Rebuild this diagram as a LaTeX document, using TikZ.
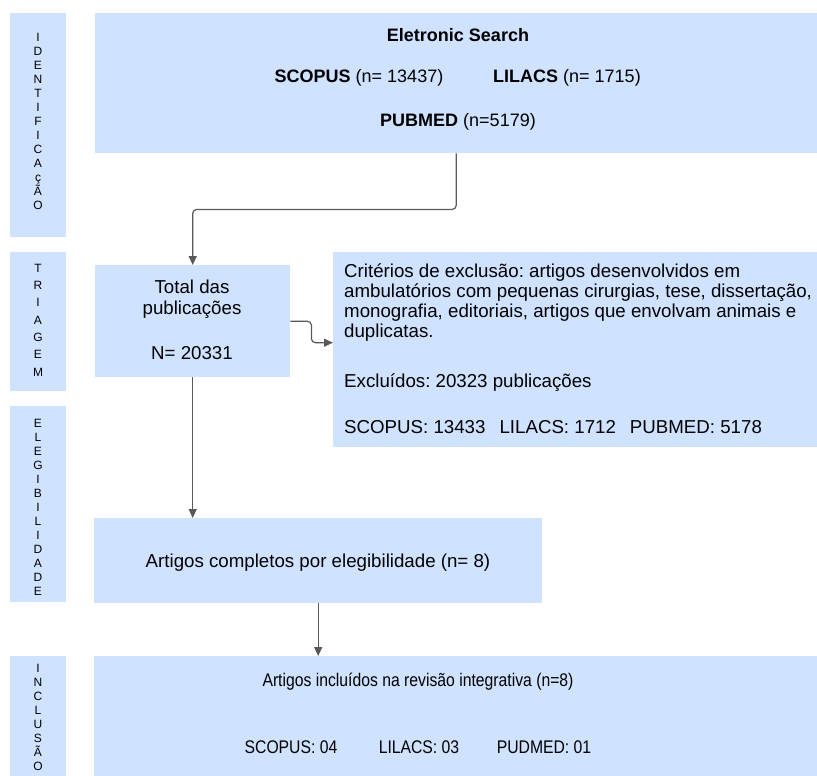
\documentclass[tikz,border=0pt]{standalone}
\usepackage{fontspec}
\setmainfont{Liberation Sans}
\newfontfamily\narrowfont[FakeStretch=0.86]{Liberation Sans}
\usetikzlibrary{arrows.meta}
\definecolor{boxblue}{RGB}{207,226,255}
\definecolor{linegray}{RGB}{89,89,89}
\frenchspacing

\begin{document}
\begin{tikzpicture}[x=1pt, y=-1pt]
    \useasboundingbox (0,0) rectangle (817,776);

    \tikzset{BoxStyle/.style={fill=boxblue, inner sep=0pt, anchor=north west}}
    \node[BoxStyle, minimum width=56,  minimum height=224] (sIdent)   at (10,13)  {};
    \node[BoxStyle, minimum width=56,  minimum height=139] (sTriagem) at (10,252) {};
    \node[BoxStyle, minimum width=56,  minimum height=196] (sEleg)    at (10,406) {};
    \node[BoxStyle, minimum width=56,  minimum height=120] (sIncl)    at (10,656) {};

    \node[BoxStyle, minimum width=722, minimum height=140] (search)   at (95,13)  {};
    \node[BoxStyle, minimum width=195, minimum height=112] (total)    at (95,265) {};
    \node[BoxStyle, minimum width=484, minimum height=195] (excl)     at (333,252) {};
    \node[BoxStyle, minimum width=448, minimum height=85]  (eleg)     at (94,518) {};
    \node[BoxStyle, minimum width=723, minimum height=120] (incl)     at (94,656) {};

    \tikzset{StageStyle/.style={align=center, inner sep=0pt, font=\fontsize{12}{14}\selectfont}}
    \node[StageStyle] (tIdent) at (38,121) {I\\D\\E\\N\\T\\I\\F\\I\\C\\A\\ç\\Ã\\O};
    \node[StageStyle, font=\fontsize{12}{17.3}\selectfont] (tTriagem) at (38,320) {T\\R\\I\\A\\G\\E\\M};
    \node[StageStyle] (tEleg)  at (38,507) {E\\L\\E\\G\\I\\B\\I\\L\\I\\D\\A\\D\\E};
    \node[StageStyle] (tIncl)  at (38,717) {I\\N\\C\\L\\U\\S\\Ã\\O};

    \tikzset{TextStyle/.style={inner sep=0pt, font=\fontsize{18}{20}\selectfont}}
    \node[TextStyle] (searchTitle) at (458,35)  {\textbf{Eletronic Search}};
    \node[TextStyle] (scopus)      at (359,78)  {\textbf{SCOPUS} (n= 13437)};
    \node[TextStyle] (lilacs)      at (567,78)  {\textbf{LILACS} (n= 1715)};
    \node[TextStyle] (pubmed)      at (458,122) {\textbf{PUBMED} (n=5179)};

    \tikzset{TextStyle/.append style={font=\fontsize{18.7}{20}\selectfont}}
    \node[TextStyle] (totalA) at (192,287) {Total das};
    \node[TextStyle] (totalB) at (192,310) {publicações};
    \node[TextStyle] (totalN) at (192,353) {N= 20331};

    \node[TextStyle, align=left, anchor=west] (criteria) at (344,302.5)
        {Critérios de exclusão: artigos desenvolvidos em\\
         ambulatórios com pequenas cirurgias, tese, dissertação,\\
         monografia, editoriais, artigos que envolvam animais e\\
         duplicatas.};
    \node[TextStyle, anchor=west] (excluded) at (344,383) {Excluídos: 20323 publicações};
    \node[TextStyle, anchor=west] (exclDb)   at (344,427)
        {SCOPUS: 13433\hspace{14pt}LILACS: 1712\hspace{14pt}PUBMED: 5178};

    \node[TextStyle] (complete) at (318,563) {Artigos completos por elegibilidade (n= 8)};

    \tikzset{TextStyle/.append style={font=\narrowfont\fontsize{18.3}{20}\selectfont}}
    \node[TextStyle] (included)  at (418,682) {Artigos incluídos na revisão integrativa (n=8)};
    \node[TextStyle] (inScopus)  at (291,747) {SCOPUS: 04};
    \node[TextStyle] (inLilacs)  at (419,747) {LILACS: 03};
    \node[TextStyle] (inPudmed)  at (544,747) {PUDMED: 01};

    \tikzset{EdgeStyle/.style={draw=linegray, line width=1.2pt, rounded corners=4pt,
        -{Triangle[length=9pt, width=8pt]}}}
    \draw[EdgeStyle] (search.south) -- ++(0,56) -| (total.north);
    \draw[EdgeStyle] (total.east) -- ++(21,0) |- ([yshift=7pt]excl.west);
    \draw[EdgeStyle] (total.south) -- (total.south |- eleg.north);
    \draw[EdgeStyle] (eleg.south) -- (eleg.south |- incl.north);

\end{tikzpicture}
\end{document}
